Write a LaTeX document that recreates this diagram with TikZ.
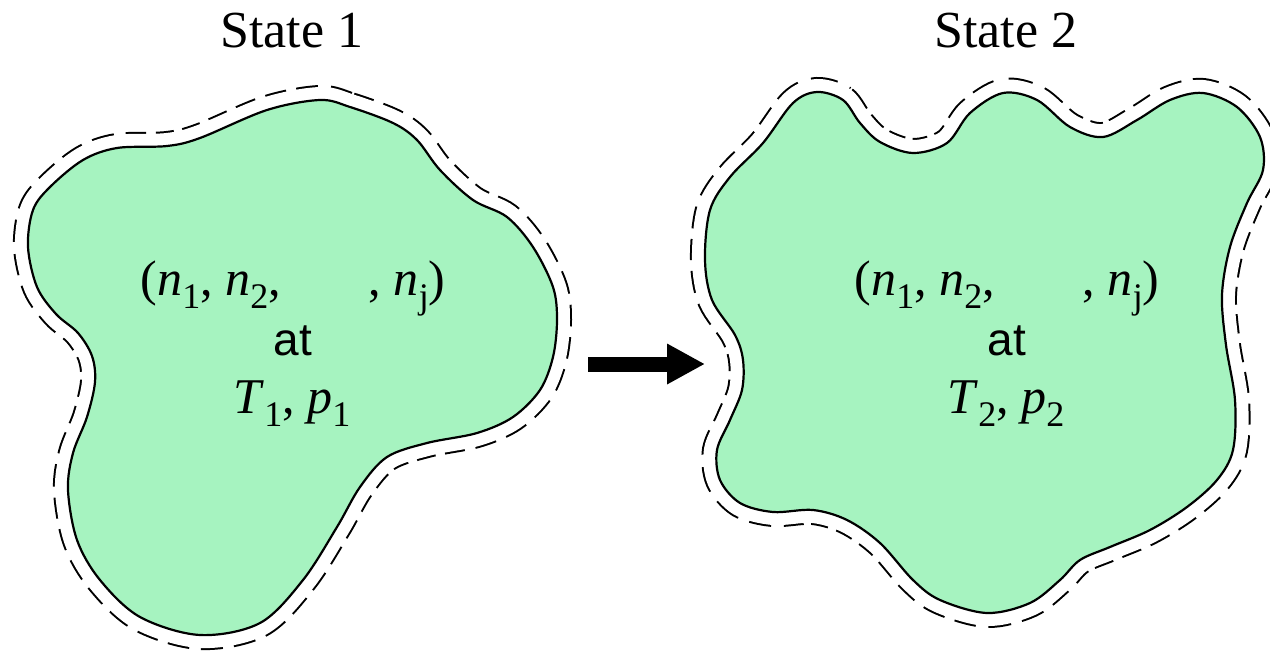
\documentclass[tikz,border=0pt]{standalone}
\usepackage{fontspec}
\setmainfont{Liberation Serif}
\newfontfamily\atfont{Liberation Sans}
\usetikzlibrary{arrows.meta,positioning}
\definecolor{gasgreen}{HTML}{A6F3C0}
\newcommand{\vsub}[2]{\textit{#1}\raisebox{-6.5pt}{\fontsize{18}{18}\selectfont #2}}
\tikzset{
  rimdash/.style = {draw=black, line width=15pt, dash pattern=on 10pt off 5pt},
  rimgap/.style  = {draw=white, line width=13pt},
  gasfill/.style = {fill=gasgreen, draw=black, line width=1.1pt},
  title/.style   = {anchor=base, font=\fontsize{26}{30}\selectfont},
  mix/.style     = {anchor=base, font=\fontsize{25}{30}\selectfont},
  flow/.style    = {-{Triangle[length=19pt,width=19pt]}, line width=7.5pt},
}

\begin{document}
\begin{tikzpicture}[x=0.5pt, y=-0.5pt]
\useasboundingbox (0,0) rectangle (1270,653);
% ---- state 1 ----
\foreach \sty in {rimdash,rimgap,gasfill}
  \path[\sty] plot[smooth cycle, tension=0.55] coordinates {
    (320,100) (350,107) (393,123) (417,140) (440,170) (473,200) (507,217)
    (533,247) (553,287) (557,320) (553,357) (540,390) (513,417) (477,433)
    (427,443) (387,457) (360,487) (337,527) (303,580) (260,623) (200,635)
    (140,617) (100,580) (77,540) (68,490) (73,453) (87,417) (95,382)
    (92,356) (78,333) (56,314) (37,287) (28,247) (33,210) (50,187) (83,160)
    (117,148) (167,146) (200,138) (267,110)};
% ---- state 2 ----
\foreach \sty in {rimdash,rimgap,gasfill}
  \path[\sty] plot[smooth cycle, tension=0.55] coordinates {
    (817,92) (843,100) (860,123) (880,142) (913,153) (947,143) (970,113)
    (1003,93) (1037,100) (1070,127) (1103,137) (1137,120) (1170,100)
    (1203,93) (1237,107) (1260,137) (1263,170) (1247,203) (1230,247)
    (1222,295) (1226,345) (1235,400) (1233,450) (1217,480)
    (1187,507) (1150,530) (1110,547) (1080,560) (1060,580) (1030,603)
    (987,613) (940,600) (913,580) (880,543) (847,520) (813,510) (773,512)
    (740,503) (720,480) (717,450) (730,420) (742,390) (743,360) (735,335)
    (712,300) (705,260) (710,210) (730,177) (763,143) (793,103)};
% ---- labels ----
\node[title] (head1) at (292,47) {State 1};
\node[title] (head2) at (1006,47) {State 2};
\node[mix] (mol1) at (293,295)
  {(\vsub{n}{1}, \vsub{n}{2},\hspace{44pt}, \vsub{n}{j})};
\node[mix, font=\atfont\fontsize{23}{26}\selectfont] (at1) at (293,355) {at};
\node[mix] (tp1) at (292,413) {\vsub{T}{1}, \vsub{p}{1}};
\node[mix] (mol2) at (1007,295)
  {(\vsub{n}{1}, \vsub{n}{2},\hspace{44pt}, \vsub{n}{j})};
\node[mix, font=\atfont\fontsize{23}{26}\selectfont] (at2) at (1007,355) {at};
\node[mix] (tp2) at (1006,413) {\vsub{T}{2}, \vsub{p}{2}};
% ---- process arrow ----
\coordinate (flowS) at (588,364);
\coordinate (flowE) at (705,364);
\draw[flow] (flowS) -- (flowE);
\end{tikzpicture}
\end{document}
